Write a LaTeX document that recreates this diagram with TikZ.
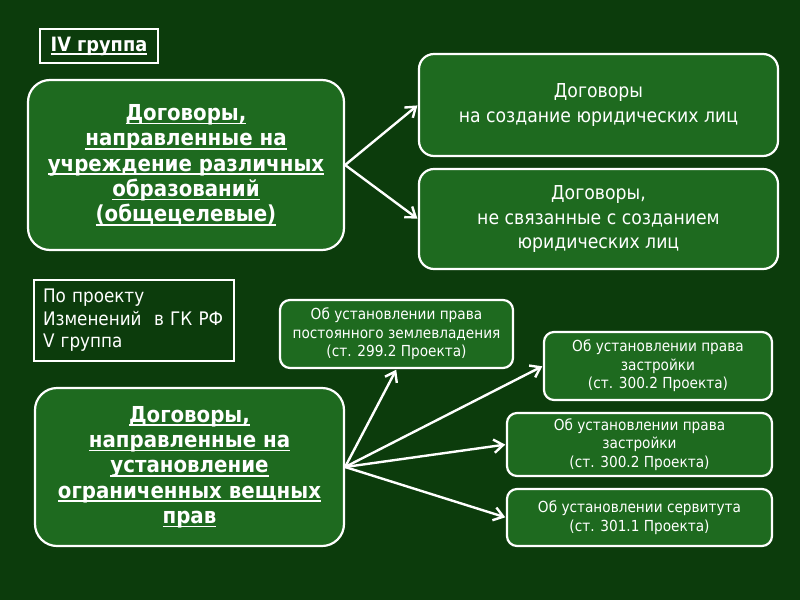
\documentclass[tikz,border=0pt]{standalone}
\usepackage{fontspec}
\setmainfont{DejaVu Sans Condensed}
\newcommand\myul[1]{\leavevmode\setbox0\hbox{#1}\rlap{\rule[-2.9pt]{\wd0}{1.3pt}}\box0}
\usetikzlibrary{arrows.meta}
\definecolor{bgc}{HTML}{0C3C0C}
\definecolor{boxc}{HTML}{1E6A1F}
\tikzset{
  box/.style={draw=white, line width=2.2pt*0.75, fill=boxc, text=white, align=center, inner sep=0pt},
  plainbox/.style={draw=white, line width=2.2pt*0.75, text=white, inner sep=0pt},
  bigtxt/.style={font=\fontsize{16.5}{19}\selectfont\bfseries},
  midtxt/.style={font=\fontsize{14.4}{18.3}\selectfont},
  smalltxt/.style={font=\fontsize{11.4}{13.9}\selectfont},
  arr/.style={draw=white, line width=2.4pt*0.75, -{Straight Barb[length=7pt,width=10pt,line width=2.4pt*0.75]}, shorten >=0.5pt},
}
\begin{document}
\begin{tikzpicture}[x=0.75pt,y=-0.75pt]
\fill[bgc] (0,0) rectangle (800,600);
\useasboundingbox (0,0) rectangle (800,600);

\node[plainbox, minimum width=118*0.75pt, minimum height=34*0.75pt, font=\fontsize{14.8}{17}\selectfont\bfseries] (g4) at (99,46) {\myul{IV группа}};

\node[box, rounded corners=22*0.75pt, minimum width=316*0.75pt, minimum height=170*0.75pt, bigtxt] (big1) at (186,165)
  {\myul{Договоры,}\\\myul{направленные на}\\\myul{учреждение различных}\\\myul{образований}\\\myul{(общецелевые)}};

\node[box, rounded corners=15*0.75pt, minimum width=359*0.75pt, minimum height=102*0.75pt, midtxt] (A) at (598.5,105)
  {Договоры\\на создание юридических лиц};
\node[box, rounded corners=15*0.75pt, minimum width=359*0.75pt, minimum height=100*0.75pt, midtxt] (B) at (598.5,219)
  {Договоры,\\не связанные с созданием\\юридических лиц};

\node[plainbox, minimum width=200*0.75pt, minimum height=81*0.75pt, align=left, text width=182*0.75pt,
  font=\fontsize{14}{16.9}\selectfont] (proj) at (134,320.5)
  {По проекту\\Изменений\ \ в ГК РФ\\V группа};

\node[box, rounded corners=22*0.75pt, minimum width=309*0.75pt, minimum height=158*0.75pt, bigtxt] (big2) at (189.5,467)
  {\myul{Договоры,}\\\myul{направленные на}\\\myul{установление}\\\myul{ограниченных вещных}\\\myul{прав}};

\node[box, rounded corners=10*0.75pt, minimum width=233*0.75pt, minimum height=68*0.75pt, smalltxt] (s1) at (396.5,334)
  {Об установлении права\\постоянного землевладения\\(ст. 299.2 Проекта)};
\node[box, rounded corners=10*0.75pt, minimum width=228*0.75pt, minimum height=68*0.75pt, smalltxt] (s2) at (658,366)
  {Об установлении права\\застройки\\(ст. 300.2 Проекта)};
\node[box, rounded corners=10*0.75pt, minimum width=265*0.75pt, minimum height=63*0.75pt, smalltxt] (s3) at (639.5,444.5)
  {Об установлении права\\застройки\\(ст. 300.2 Проекта)};
\node[box, rounded corners=10*0.75pt, minimum width=265*0.75pt, minimum height=57*0.75pt, smalltxt] (s4) at (639.5,517.5)
  {Об установлении сервитута\\(ст. 301.1 Проекта)};

\draw[arr] (big1.east) -- (A.west);
\draw[arr] (big1.east) -- (B.west);
\draw[arr] (big2.east) -- (s1.south);
\draw[arr] (big2.east) -- (s2.west);
\draw[arr] (big2.east) -- (s3.west);
\draw[arr] (big2.east) -- (s4.west);
\end{tikzpicture}
\end{document}
